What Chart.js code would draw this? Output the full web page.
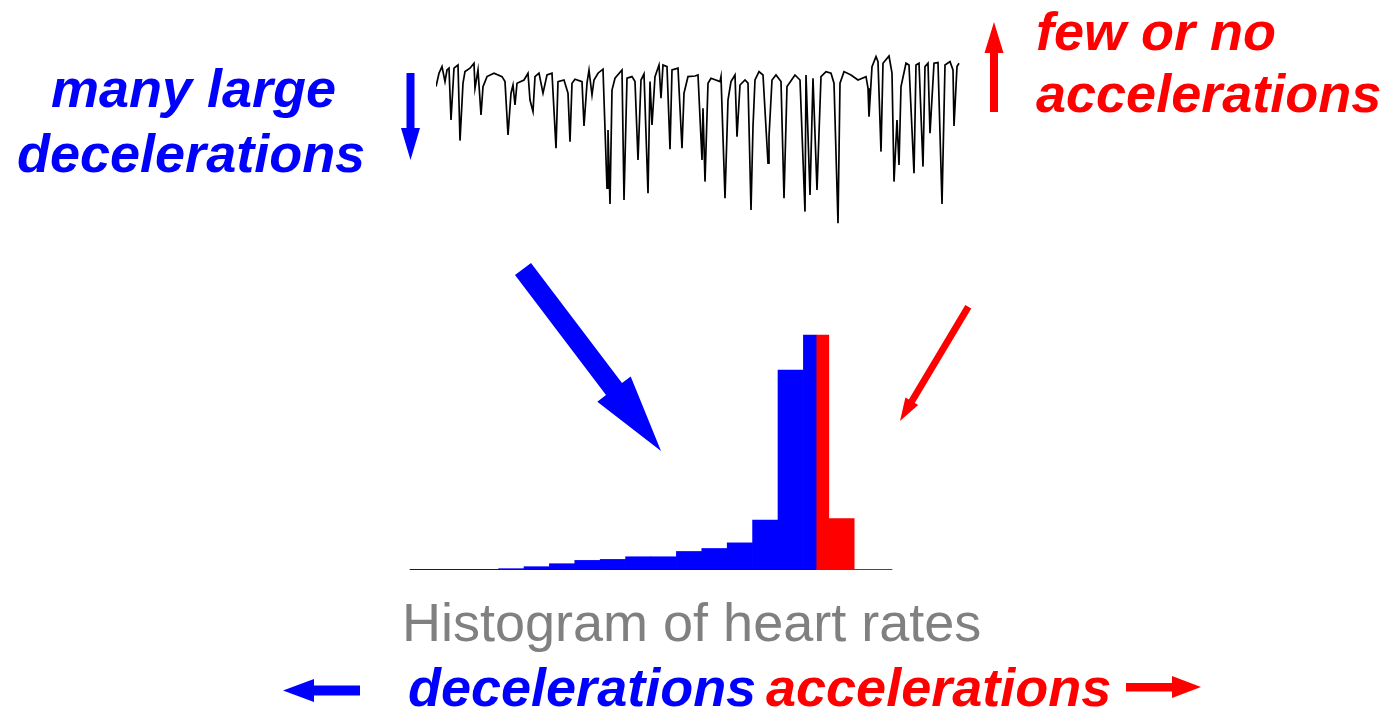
<!DOCTYPE html>
<html>
<head>
<meta charset="utf-8">
<script src="https://cdn.jsdelivr.net/npm/chart.js@4.4.0/dist/chart.umd.min.js"></script>
<style>
    body { margin: 0; background: #fff; width: 1389px; height: 711px; overflow: hidden; position: relative; }
    canvas { position: absolute; }
    .lbl { position: absolute; white-space: nowrap; font-family: "Liberation Sans", Arial, sans-serif; font-size: 54px; line-height: 1; }
    .bi { font-weight: bold; font-style: italic; }
    .blue { color: #0000ff; }
    .red { color: #ff0000; }
    #arrows { position: absolute; left: 0; top: 0; pointer-events: none; }
</style>
</head>
<body>

<canvas id="traceChart" width="525" height="180" style="left:436px; top:50px;"></canvas>
<canvas id="histChart" width="508" height="236" style="left:397px; top:334px;"></canvas>

<div class="lbl bi blue" style="left:51px; top:61px;">many large</div>
<div class="lbl bi blue" style="left:17px; top:126px;">decelerations</div>
<div class="lbl bi red" style="left:1036px; top:4px;">few or no</div>
<div class="lbl bi red" style="left:1036px; top:66px;">accelerations</div>
<div class="lbl" style="left:402px; top:595px; color:#808080;">Histogram of heart rates</div>
<div class="lbl bi blue" style="left:408px; top:660px;">decelerations</div>
<div class="lbl bi red" style="left:766px; top:660px;">accelerations</div>

<svg id="arrows" width="1389" height="711">
    <!-- small vertical arrows next to the trace -->
    <polygon fill="#0000ff" points="406.5,73 414.5,73 414.5,128 420,128 410.5,160 401,128 406.5,128"/>
    <polygon fill="#ff0000" points="990,112 998,112 998,53 1003.5,53 994,22 984.5,53 990,53"/>
    <!-- diagonal arrows into the histogram -->
    <polygon fill="#0000ff" points="515,275 606,395.1 597.3,401.8 661,451 630.7,376.4 622,383.1 531,263"/>
    <polygon fill="#ff0000" points="965.3,304.9 908.8,399.5 905.4,397.5 900,421 918.2,405.1 914.8,403.1 971.3,308.5"/>
    <!-- direction arrows along the bottom -->
    <polygon fill="#0000ff" points="360,685.5 360,695.5 314,695.5 314,702 283,690.5 314,679 314,685.5"/>
    <polygon fill="#ff0000" points="1126,683 1126,691.5 1172,691.5 1172,698 1201,687 1172,676 1172,683"/>
</svg>

<script>
// Fetal heart rate trace (minutes, beats per minute)
const traceMinutes = [
    0.0, 0.3, 0.6, 0.9, 1.1, 1.3, 1.5, 1.8, 2.2, 2.4, 2.7, 2.9, 3.4, 3.8, 3.9, 4.2, 4.5, 4.7, 5.1, 5.8,
    6.6, 6.9, 7.2, 7.5, 7.7, 7.9, 8.1, 8.8, 9.2, 9.4, 9.7, 9.9, 10.3, 10.7, 11.1, 11.6, 12.0, 12.2, 12.8,
    13.2, 13.4, 13.6, 13.9, 14.6, 14.8, 15.1, 15.3, 15.6, 15.8, 16.2, 16.7, 17.1, 17.2, 17.4, 17.6, 17.9,
    18.6, 18.8, 19.1, 19.6, 19.9, 20.2, 20.5, 20.8, 21.2, 21.4, 21.6, 21.9, 22.3, 22.5, 22.7, 23.1, 23.4,
    23.6, 24.2, 24.6, 24.8, 25.2, 25.9, 26.2,
    26.6, 26.7, 26.9, 27.2, 27.5, 28.4, 28.5, 28.9, 29.2, 29.5, 29.9, 30.1, 30.4, 30.9, 31.2, 31.5, 31.7,
    31.9, 32.3, 32.7, 33.2, 33.3, 33.6, 34.0, 34.5, 34.8, 35.1, 35.9, 36.4, 36.9, 37.0, 37.4, 37.7, 38.1,
    38.5, 39.0, 39.5,
    39.8, 40.2, 40.4, 40.8, 41.5, 42.2, 43.0, 43.2, 43.3, 43.6, 44.0, 44.2, 44.5, 44.7, 45.3, 45.6, 45.8,
    46.1, 46.3, 46.5, 47.0, 47.3, 47.8, 48.0, 48.3, 48.7, 48.9, 49.2, 49.4, 49.8, 50.2, 50.6, 50.9, 51.4,
    51.7, 51.8, 52.1, 52.3
];
const traceBpm = [
    146.7, 153.4, 156.7, 149.2, 155, 155.9, 130, 155.9, 157.5, 119.7, 148.4, 154.2, 155.9, 158.4, 145.9, 155,
    132.5, 146.7, 151.7, 153.4, 151.7, 149.2, 122.5, 143.4, 147.5, 137.5, 148.4, 150, 153.4, 140, 134.2,
    151.7, 153.4, 143.4, 152.5, 153.4, 115.9, 149.2, 150,
    143.4, 119.2, 148.4, 150.4, 149.2, 127, 148.4, 155, 142.5, 150, 153.4, 155.4, 95.9, 125, 88, 145, 150.9,
    155, 90, 150.9, 151.7, 149.2, 110, 150, 153, 93.4, 149.2, 127.5, 151.7, 157.5, 140.9, 157.5, 156.7, 115.4,
    155, 155.9, 115.9, 143.4, 151.7, 152, 152.5,
    110, 135.9, 99.2, 148.4, 150.9, 149.2, 151.7, 90.9, 140, 149.2, 152.5, 121.7, 147.5, 150, 148.4, 85, 126.7,
    150, 154.2, 152.5, 108.4, 121.7, 150, 152.5, 149.2, 90.9, 146.7, 152.5, 150, 84.2, 152.5, 92.5, 150.9, 95,
    151.7, 154.2, 153.4,
    148.4, 78.4, 148.4, 154.2, 152.5, 150, 151.7, 145.9, 131.7, 156.7, 161.7, 159.2, 114.2, 158.4, 162, 153.4,
    99.2, 130, 107.5, 146.7, 158.4, 157.5, 103.4, 157.5, 158.4, 106.7, 156.7, 158.4, 123.4, 158.4, 158.7, 88,
    157.5, 159.2, 155, 127, 156.7, 158.4
];

// Histogram of heart rates (percent of time in each 5 bpm bin), empty bins left null
const rateBins = ['60', '65', '70', '75', '80', '85', '90', '95', '100', '105',
                  '110', '115', '120', '125', '130', '135', '140', '145', '150', '155'];
const decelShare = [null, null, 0.05, 0.1, 0.2, 0.5, 0.95, 1.45, 1.6, 2.0,
                    2.0, 2.8, 3.25, 4.1, 7.55, 30.2, 35.5, null, null, null];
const accelShare = [null, null, null, null, null, null, null, null, null, null,
                    null, null, null, null, null, null, 35.5, 7.75, null, null];
const splitBin = 16;  // the modal bin is shared between both colours

// Create Trace Chart
let traceChart = new Chart(document.getElementById('traceChart').getContext('2d'), {
    type: 'line',
    data: {
        datasets: [{
            data: traceMinutes.map((t, i) => ({ x: t, y: traceBpm[i] })),
            borderColor: '#000000',
            borderWidth: 1.7,
            pointRadius: 0,
            tension: 0,
            clip: false
        }]
    },
    options: {
        responsive: false,
        animation: false,
        devicePixelRatio: 1,
        layout: { padding: 0 },
        plugins: { legend: { display: false }, tooltip: { enabled: false } },
        scales: {
            x: { type: 'linear', min: 0, max: 52.5, display: false },
            y: { min: 75, max: 165, display: false }
        }
    }
});

// thin zero line under the histogram, blue up to the split, red after it
const baselinePlugin = {
    id: 'baseline',
    afterDatasetsDraw(chart) {
        const ctx = chart.ctx;
        const x = chart.scales.x;
        const y0 = Math.round(chart.scales.y.getPixelForValue(0)) - 0.5;
        const xs = x.getPixelForValue(0);
        const xm = x.getPixelForValue(splitBin);
        const xe = x.getPixelForValue(rateBins.length - 1);
        ctx.save();
        ctx.lineWidth = 1;
        ctx.strokeStyle = '#0000ff';
        ctx.beginPath(); ctx.moveTo(xs, y0); ctx.lineTo(xm, y0); ctx.stroke();
        ctx.strokeStyle = '#ff0000';
        ctx.beginPath(); ctx.moveTo(xm, y0); ctx.lineTo(xe, y0); ctx.stroke();
        ctx.restore();
    }
};

// Create Histogram Chart
let histChart = new Chart(document.getElementById('histChart').getContext('2d'), {
    type: 'bar',
    data: {
        labels: rateBins,
        datasets: [{
            data: decelShare,
            backgroundColor: '#0000ff',
            borderWidth: 0
        }, {
            data: accelShare,
            backgroundColor: '#ff0000',
            borderWidth: 0
        }]
    },
    options: {
        responsive: false,
        animation: false,
        devicePixelRatio: 1,
        layout: { padding: 0 },
        datasets: { bar: { categoryPercentage: 1, barPercentage: 1, skipNull: true } },
        plugins: { legend: { display: false }, tooltip: { enabled: false } },
        scales: {
            x: { display: false },
            y: { min: 0, max: 35.65, display: false }
        }
    },
    plugins: [baselinePlugin]
});
</script>
</body>
</html>
